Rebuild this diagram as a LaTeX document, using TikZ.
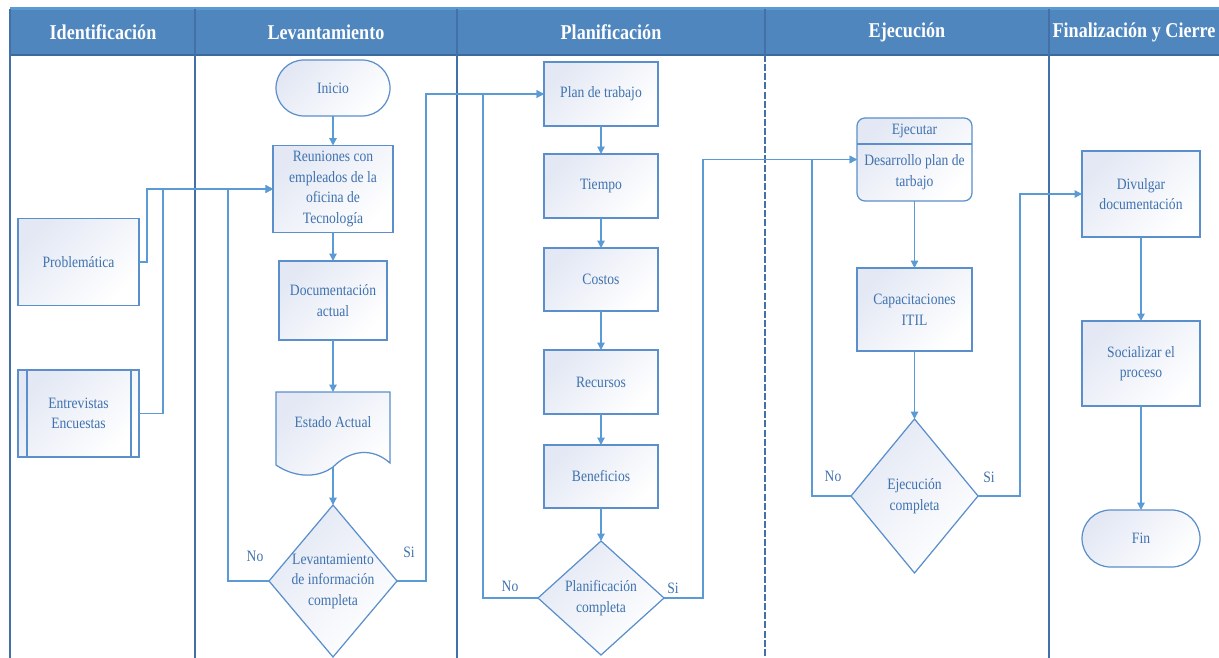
\documentclass[tikz,border=0pt]{standalone}
\usepackage{fontspec}
\setmainfont[FakeStretch=0.86]{Liberation Serif}
\usetikzlibrary{arrows.meta,shapes.geometric,calc}
\definecolor{hdr}{HTML}{4F86BE}
\definecolor{hdrline}{HTML}{3D6A9E}
\definecolor{lane}{HTML}{4470A8}
\definecolor{edge}{HTML}{5B9BD5}
\definecolor{boxline}{HTML}{5A8FCB}
\definecolor{txt}{HTML}{3F72AF}
\definecolor{tint}{HTML}{E3E8F4}
\begin{document}
\begin{tikzpicture}[x=0.02cm,y=-0.02cm,
  txtfont/.style={font=\fontsize{9}{11.7}\selectfont, text=txt, align=center},
  shaded/.style={left color=tint, middle color=white, right color=white, shading angle=45},
  box/.style 2 args={draw=boxline, line width=0.7pt, shaded, txtfont,
    minimum width=#1*0.02cm, minimum height=#2*0.02cm, inner sep=0pt, outer sep=0pt},
  pill/.style 2 args={box={#1}{#2}, rounded corners=#2*0.01cm},
  dia/.style 2 args={diamond, draw=boxline, line width=0.7pt, shaded,
    minimum width=#1*0.02cm, minimum height=#2*0.02cm, inner sep=0pt, outer sep=0pt},
  lbl/.style={txtfont, inner sep=0pt},
  hdrtext/.style={font=\fontsize{12}{14}\selectfont\bfseries, text=white},
  conn/.style={draw=edge, line width=0.75pt, -{Triangle[length=4.2pt,width=4.2pt]}},
  lanesep/.style={draw=lane, line width=0.8pt}
]
\useasboundingbox (0,0) rectangle (1219,658);

% pool header band
\fill[hdr] (10,9) rectangle (1219,55);
\draw[edge, line width=1.2pt] (10,8.5) -- (1219,8.5);
\draw[hdrline, line width=0.8pt] (10,55) -- (1219,55);

% lane separators
\draw[lanesep] (10,9) -- (10,658);
\draw[lanesep] (195,9) -- (195,658);
\draw[lanesep] (457,9) -- (457,658);
\draw[lanesep] (765,9) -- (765,55);
\draw[lanesep, dash pattern=on 4pt off 1.2pt] (765,55) -- (765,658);
\draw[lanesep] (1049,9) -- (1049,658);

% lane titles
\node[hdrtext] (h1) at (103,32) {Identificación};
\node[hdrtext] (h2) at (326,32) {Levantamiento};
\node[hdrtext] (h3) at (611,32) {Planificación};
\node[hdrtext] (h4) at (907,32) {Ejecución};
\node[hdrtext] (h5) at (1134,32) {Finalización y Cierre};

% Identificación
\node[box={121}{87}] (prob) at (78.5,262) {Problemática};
\node[box={121}{87}] (entr) at (78.5,413.5) {Entrevistas\\Encuestas};
\draw[boxline, line width=0.7pt] ($(entr.north west)+(9,0)$) -- ($(entr.south west)+(9,0)$);
\draw[boxline, line width=0.7pt] ($(entr.north east)+(-8,0)$) -- ($(entr.south east)+(-8,0)$);

% Levantamiento
\node[pill={114}{56}] (ini) at (333,88) {Inicio};
\node[box={120}{87}] (reun) at (333,189) {Reuniones con\\empleados de la\\oficina de\\Tecnología};
\node[box={108}{79}] (doc) at (333,300.5) {Documentación\\actual};
\node[txtfont, minimum width=114*0.02cm, minimum height=60*0.02cm, inner sep=0pt, outer sep=0pt] (est) at (333,422) {};
\path[shaded, draw=boxline, line width=0.7pt]
  (est.north west) -- (est.north east) -- ($(est.south east)+(0,11)$)
  .. controls ($(est.south)+(39,-5)$) and ($(est.south)+(17,-2)$) .. ($(est.south)+(0,15)$)
  .. controls ($(est.south)+(-18,28)$) and ($(est.south)+(-41,24)$) .. ($(est.south west)+(0,13)$)
  -- cycle;
\node[lbl] (estt) at (est.center) {Estado Actual};
\coordinate (estb) at ($(est.south)+(0,15)$);
\node[dia={128}{152}, label={[lbl]center:{Levantamiento\\de información\\completa}}] (levd) at (333,581) {};
\node[lbl] (levno) at (255,556) {No};
\node[lbl] (levsi) at (409,552) {Si};

% Planificación
\node[box={114}{64}] (plan) at (601,94) {Plan de trabajo};
\node[box={114}{64}] (tiem) at (601,186) {Tiempo};
\node[box={114}{63}] (cost) at (601,279.5) {Costos};
\node[box={114}{64}] (recu) at (601,382) {Recursos};
\node[box={114}{63}] (bene) at (601,476.5) {Beneficios};
\node[dia={126}{114}, label={[lbl]center:{Planificación\\completa}}] (pland) at (601,598) {};
\node[lbl] (planno) at (510,586) {No};
\node[lbl] (plansi) at (673,588) {Si};

% Ejecución
\node[box={115}{83}, rounded corners=0.16cm] (ejec) at (914.5,159.5) {};
\draw[boxline, line width=0.7pt] ($(ejec.north west)+(0,26)$) -- ($(ejec.north east)+(0,26)$);
\node[lbl] (eject) at (914.5,131) {Ejecutar};
\node[lbl] (ejecb) at (914.5,172) {Desarrollo plan de\\tarbajo};
\node[box={115}{83}] (capa) at (914.5,309.5) {Capacitaciones\\ITIL};
\node[dia={127}{154}, label={[lbl]center:{Ejecución\\completa}}] (ejd) at (914.5,496) {};
\node[lbl] (ejno) at (833,476) {No};
\node[lbl] (ejsi) at (989,477) {Si};

% Finalización y Cierre
\node[box={118}{86}] (divu) at (1141,194) {Divulgar\\documentación};
\node[box={118}{85}] (soci) at (1141,363.5) {Socializar el\\proceso};
\node[pill={118}{57}] (fin) at (1141,538.5) {Fin};

% flow
\draw[conn] (prob.east) -- ++(8,0) |- (reun.west);
\draw[conn] (entr.east) -- ++(24,0) |- (reun.west);
\draw[conn] (levd.west) -- ++(-41,0) |- (reun.west);
\draw[conn] (ini.south) -- (reun.north);
\draw[conn] (reun.south) -- (doc.north);
\draw[conn] (doc.south) -- (est.north);
\draw[conn] (estb) -- (levd.north);
\draw[conn] (levd.east) -- ++(29,0) |- (plan.west);

\draw[conn] (plan.south) -- (tiem.north);
\draw[conn] (tiem.south) -- (cost.north);
\draw[conn] (cost.south) -- (recu.north);
\draw[conn] (recu.south) -- (bene.north);
\draw[conn] (bene.south) -- (pland.north);
\draw[conn] (pland.west) -- ++(-55,0) |- (plan.west);
\draw[conn] (pland.east) -- ++(39,0) |- (ejec.west);

\draw[conn] (ejec.south) -- (capa.north);
\draw[conn] (capa.south) -- (ejd.north);
\draw[conn] (ejd.west) -- ++(-39,0) |- (ejec.west);
\draw[conn] (ejd.east) -- ++(42,0) |- (divu.west);

\draw[conn] (divu.south) -- (soci.north);
\draw[conn] (soci.south) -- (fin.north);
\end{tikzpicture}
\end{document}
